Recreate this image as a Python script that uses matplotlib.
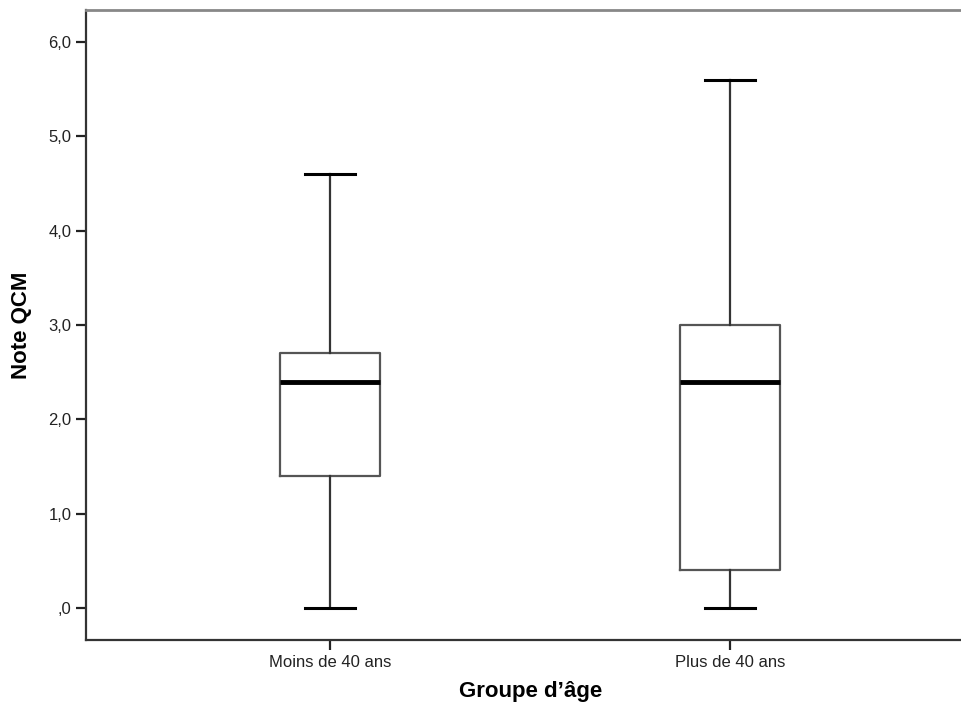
import matplotlib
matplotlib.use("Agg")
import matplotlib.pyplot as plt

# valeurs (boxplot SPSS)
groupes = ["Moins de 40 ans", "Plus de 40 ans"]
mini = [0.0, 0.0]
q1 = [1.4, 0.4]
mediane = [2.4, 2.4]
q3 = [2.7, 3.0]
maxi = [4.6, 5.6]

yticks = [0, 1, 2, 3, 4, 5, 6]
ylabs = [",0", "1,0", "2,0", "3,0", "4,0", "5,0", "6,0"]

plt.rcParams["font.family"] = ["Liberation Sans", "DejaVu Sans"]

fig = plt.figure(figsize=(9.62, 7.06), dpi=100)
ax = fig.add_axes([86/962, 66/706, 1 - 86/962, 630/706])

stats = []
for i in range(len(groupes)):
    stats.append({"label": groupes[i], "whislo": mini[i], "q1": q1[i],
                  "med": mediane[i], "q3": q3[i], "whishi": maxi[i], "fliers": []})

ax.bxp(stats, positions=[1, 2], widths=0.25, showfliers=False,
       boxprops=dict(color="#555555", linewidth=1.6),
       whiskerprops=dict(color="#333333", linewidth=1.6),
       capprops=dict(color="black", linewidth=2.2),
       medianprops=dict(color="black", linewidth=3.5),
       capwidths=0.125)

ax.set_xlim(0.39, 2.58)
ax.set_ylim(-0.34, 6.34)
ax.set_yticks(yticks)
ax.set_yticklabels(ylabs, fontsize=12, color="#222222")
ax.tick_params(axis="x", labelsize=12, length=7, width=1.6, colors="#222222")
ax.tick_params(axis="y", length=7, width=1.6, colors="#222222")

ax.spines["right"].set_visible(False)
ax.spines["top"].set_color("#888888")
ax.spines["top"].set_linewidth(2)
ax.spines["left"].set_color("#333333")
ax.spines["left"].set_linewidth(1.6)
ax.spines["bottom"].set_color("#333333")
ax.spines["bottom"].set_linewidth(1.6)

fig.text(22/962, 1 - 325/706, "Note QCM", fontsize=16, fontweight="bold",
         rotation=90, ha="center", va="center")
fig.text(531/962, 1 - 692/706, "Groupe d\u2019\u00e2ge", fontsize=16,
         fontweight="bold", ha="center", va="center")

plt.savefig("out.png", dpi=100)
